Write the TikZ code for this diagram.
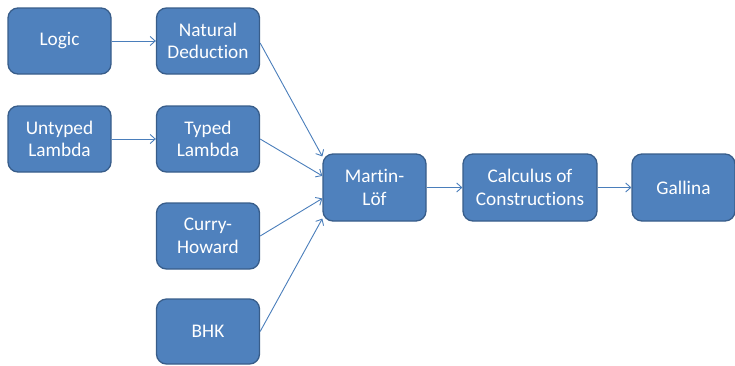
\documentclass[tikz,border=0pt]{standalone}
\usepackage{fontspec}
\setmainfont[Ligatures={NoCommon,NoRare,NoDiscretionary}]{Carlito}
\usetikzlibrary{arrows.meta,calc}
\definecolor{boxfill}{HTML}{4F81BD}
\definecolor{boxline}{HTML}{385D8A}
\definecolor{arrowc}{HTML}{4A7EBB}
\begin{document}
\begin{tikzpicture}[x=1pt,y=-1pt,
  box/.style={draw=boxline, fill=boxfill, line width=1.3pt, rounded corners=10pt,
    minimum width=103pt, minimum height=66pt, inner sep=0pt, align=center,
    text=white, font=\fontsize{19.3}{22.5}\selectfont},
  conn/.style={draw=arrowc, line width=0.9pt, -{Straight Barb[length=5pt,width=9pt]}}]
\useasboundingbox (0,0) rectangle (735,365);
\node[box] (logic) at (59.5,41) {Logic};
\node[box] (nd) at (208,41) {Natural\\Deduction};
\node[box] (ul) at (59.5,139) {Untyped\\Lambda};
\node[box] (tl) at (208,139) {Typed\\Lambda};
\node[box] (ch) at (208,236) {Curry-\\Howard};
\node[box, minimum height=65pt] (bhk) at (208,331.5) {BHK};
\node[box, minimum height=67pt] (ml) at (374.5,187.5) {Martin-\\Löf};
\node[box, minimum height=67pt, minimum width=134pt] (coc) at (530,187.5) {Calculus of\\Constructions};
\node[box, minimum height=67pt] (gal) at (683.5,187.5) {Gallina};
\coordinate (m1) at ($(ml.north west)!0.045!(ml.south west)$);
\coordinate (m2) at ($(ml.north west)!0.33!(ml.south west)$);
\coordinate (m3) at ($(ml.north west)!0.66!(ml.south west)$);
\coordinate (m4) at ($(ml.north west)!0.955!(ml.south west)$);
\draw[conn] (logic) -- (nd);
\draw[conn] (ul) -- (tl);
\draw[conn] ($(nd.east)+(0,2)$) -- (m1);
\draw[conn] (tl.east) -- (m2);
\draw[conn] (ch.east) -- (m3);
\draw[conn] (bhk.east) -- (m4);
\draw[conn] (ml) -- (coc);
\draw[conn] (coc) -- (gal);
\end{tikzpicture}
\end{document}
